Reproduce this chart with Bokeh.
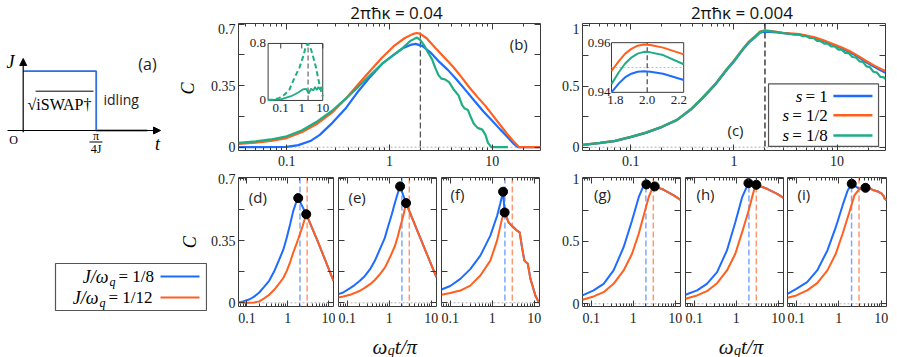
import math
from bokeh.plotting import figure
from bokeh.layouts import row, column
from bokeh.models import (Range1d, LogAxis, LinearAxis, FixedTicker, BasicTickFormatter,
                          Span, LogScale, LinearScale, Arrow, NormalHead, CustomLabelingPolicy)
from bokeh.core.properties import value
from bokeh.embed import file_html
from bokeh.resources import INLINE

BLUE, ORANGE, GREEN = "#1e6cff", "#ff5f1f", "#1fae84"
BLUE_L, ORANGE_L = "#7da6ff", "#ff9870"
INK = "#3a3a3a"
SERIF = "Liberation Serif"
SANS = "Open Sans"

# ---------------- data ----------------
TITLES = ["2πħκ = 0.04", "2πħκ = 0.004"]
S_LABELS = ["= 1", "= 1/2", "= 1/8"]
J_LABELS = ["= 1/8", "= 1/12"]

UP_X = (0.034, 29.5)
B_YR = (-0.0188, 0.704)
C_YR = (-0.027, 1.016)
LOW_X = (0.062, 13.3)
DF_YR = (-0.0209, 0.7073)
GI_YR = (-0.0216, 1.0104)

UP_XTICKS = [0.1, 1, 10, 30]
UP_XMINOR = [0.04, 0.05, 0.06, 0.07, 0.08, 0.09, 0.2, 0.3, 0.4, 0.5, 0.6, 0.7, 0.8, 0.9,
             2, 3, 4, 5, 6, 7, 8, 9, 20]
LOW_XTICKS = [0.1, 1, 10]
LOW_XMINOR = [0.07, 0.08, 0.09, 0.2, 0.3, 0.4, 0.5, 0.6, 0.7, 0.8, 0.9, 2, 3, 4, 5, 6, 7, 8, 9]
Y07_TICKS, Y07_MINOR = [0, 0.35, 0.7], [0.175, 0.525]
Y1_TICKS, Y1_MINOR = [0, 0.5, 1], [0.25, 0.75]

KAPPA_PEAK_X = 2.0
J18_MARK, J112_MARK = 2.0, 3.0

# panel (b)
B_X_BLUE = [0.034, 0.06, 0.1, 0.13, 0.17, 0.21, 0.28, 0.38, 0.5, 0.65, 0.85, 1.1, 1.35, 1.6, 1.8,
            2.1, 2.5, 3.0, 3.7, 4.5, 5.5, 6.8, 8.3, 10, 12, 14, 16, 17.8, 29.5]
B_Y_BLUE = [0, 0, 0.002, 0.012, 0.035, 0.07, 0.14, 0.225, 0.32, 0.4, 0.475, 0.525, 0.563, 0.582, 0.588,
            0.575, 0.54, 0.49, 0.44, 0.385, 0.325, 0.26, 0.2, 0.15, 0.1, 0.06, 0.022, 0, 0]
B_X_ORANGE = [0.034, 0.05, 0.07, 0.1, 0.14, 0.2, 0.28, 0.38, 0.5, 0.65, 0.85, 1.1, 1.4, 1.7, 1.85, 2.0,
              2.3, 2.8, 3.5, 4.2, 5.0, 6.0, 7.2, 8.5, 10, 12, 14, 16, 18.3, 29.5]
B_Y_ORANGE = [0.019, 0.026, 0.036, 0.052, 0.085, 0.135, 0.2, 0.279, 0.36, 0.435, 0.51, 0.575, 0.62, 0.645,
              0.65, 0.645, 0.62, 0.565, 0.505, 0.455, 0.4, 0.34, 0.285, 0.238, 0.185, 0.125, 0.075, 0.035, 0, 0]
B_X_GREEN = [0.034, 0.05, 0.07, 0.1, 0.14, 0.2, 0.28, 0.38, 0.5, 0.65, 0.85, 1.1, 1.35, 1.6, 1.85, 2.0,
             2.2, 2.4, 2.6, 2.8, 3.0, 3.2, 3.5, 3.8, 4.2, 4.7, 5.1, 5.4, 5.8, 6.2, 6.6, 7.2, 8.0, 8.6,
             9.1, 9.8, 11, 14.2]
B_Y_GREEN = [0.025, 0.033, 0.044, 0.062, 0.095, 0.148, 0.21, 0.279, 0.345, 0.41, 0.475, 0.525, 0.565,
             0.605, 0.624, 0.61, 0.575, 0.535, 0.5, 0.45, 0.41, 0.39, 0.385, 0.37, 0.33, 0.295, 0.24,
             0.22, 0.212, 0.17, 0.135, 0.11, 0.1, 0.07, 0.025, 0.0, 0.0, 0.0]
# inset of (b)
INB_X = (0.025, 10.0)
INB_Y = (0.0, 0.8)
INB_X_DASH = [0.025, 0.05, 0.087, 0.15, 0.26, 0.45, 0.77, 1.12, 1.6, 1.93, 2.77, 3.6, 4.8, 6.2, 8.3, 10]
INB_Y_DASH = [0.01, 0.012, 0.037, 0.08, 0.154, 0.318, 0.458, 0.6, 0.763, 0.8, 0.716, 0.6, 0.458, 0.295,
              0.131, 0.06]
INB_X_SOLID = [0.025, 0.1, 0.31, 0.65, 1.12, 1.6, 2.14, 2.77, 3.6, 4.3, 5.2, 6.2, 7.4, 8.9, 10]
INB_Y_SOLID = [0.005, 0.014, 0.06, 0.108, 0.154, 0.164, 0.098, 0.164, 0.14, 0.19, 0.145, 0.19, 0.154,
               0.187, 0.164]
INB_XTICKS = [0.1, 1, 10]
INB_YTICKS = [0, 0.8]

# panel (c)
C_X = [0.034, 0.05, 0.07, 0.1, 0.14, 0.2, 0.28, 0.38, 0.5, 0.67, 0.85, 1.0, 1.2, 1.4, 1.6, 1.78, 1.98,
       2.2, 2.6, 3.0, 3.5, 4.3, 5.2, 6.2, 7.5, 9.0, 11, 13.2, 16, 19, 23, 27, 29.5]
C_Y_ORANGE = [0.019, 0.035, 0.052, 0.085, 0.12, 0.168, 0.225, 0.31, 0.41, 0.526, 0.64, 0.71, 0.8, 0.868,
              0.91, 0.949, 0.959, 0.955, 0.948, 0.94, 0.935, 0.929, 0.915, 0.9, 0.877, 0.85, 0.82, 0.79,
              0.75, 0.71, 0.67, 0.64, 0.625]
C_Y_BLUE = [0.018, 0.033, 0.05, 0.083, 0.118, 0.165, 0.222, 0.306, 0.405, 0.52, 0.633, 0.703, 0.793,
            0.86, 0.902, 0.94, 0.9485, 0.947, 0.942, 0.936, 0.931, 0.924, 0.911, 0.895, 0.871, 0.844,
            0.813, 0.782, 0.742, 0.7, 0.66, 0.628, 0.612]
C_X_GREEN = [0.034, 0.05, 0.07, 0.1, 0.14, 0.2, 0.28, 0.38, 0.5, 0.67, 0.85, 1.0, 1.2, 1.4, 1.6, 1.78,
             1.98, 2.2, 2.6, 3.0, 3.5, 3.9, 4.2, 4.6, 5.0, 5.4, 5.9, 6.4, 6.9, 7.5, 8.1, 8.8, 9.5, 10.3,
             11.1, 12.0, 13.0, 14.1, 15.2, 16.5, 17.8, 19.3, 20.8, 22.5, 24.4, 26.4, 28.5, 29.5]
C_Y_GREEN = [0.019, 0.035, 0.052, 0.085, 0.12, 0.168, 0.225, 0.31, 0.41, 0.526, 0.638, 0.708, 0.797,
             0.865, 0.906, 0.943, 0.956, 0.953, 0.946, 0.938, 0.93, 0.924, 0.927, 0.913, 0.914, 0.898,
             0.897, 0.873, 0.871, 0.851, 0.85, 0.827, 0.828, 0.802, 0.801, 0.775, 0.772, 0.741, 0.738,
             0.705, 0.701, 0.664, 0.658, 0.62, 0.613, 0.577, 0.573, 0.56]
# inset of (c)
INC_XR_DATA = (1.775, 2.23)
INC_YR_DATA = (0.94, 0.96)
INC_X = [1.775, 1.82, 1.86, 1.9, 1.94, 1.98, 2.02, 2.1, 2.23]
INC_ORANGE = [0.9486, 0.9525, 0.9555, 0.9575, 0.9588, 0.9593, 0.9591, 0.9580, 0.9553]
INC_GREEN = [0.9433, 0.9480, 0.9515, 0.9540, 0.9556, 0.9563, 0.9561, 0.9550, 0.9513]
INC_BLUE = [0.9400, 0.9435, 0.9460, 0.9475, 0.9483, 0.9485, 0.9483, 0.9475, 0.9450]
INC_XTICKS = [1.8, 2.0, 2.2]
INC_YTICKS = [0.94, 0.96]
INC_MID = 0.95

# lower panels
D_X_BLUE = [0.062, 0.08, 0.117, 0.15, 0.2, 0.26, 0.35, 0.46, 0.6, 0.78, 0.95, 1.15, 1.37, 1.6, 1.81,
            2.85, 5.4, 13.3]
D_Y_BLUE = [0.002, 0.008, 0.02, 0.035, 0.058, 0.088, 0.124, 0.175, 0.237, 0.3, 0.369, 0.445, 0.519,
            0.565, 0.591, 0.5, 0.35, 0.124]
D_X_ORANGE = [0.062, 0.085, 0.117, 0.15, 0.2, 0.26, 0.35, 0.46, 0.6, 0.78, 0.95, 1.15, 1.37, 1.6, 1.81,
              2.3, 2.6, 2.85, 5.4, 13.3]
D_Y_ORANGE = [0.004, 0.0, 0.0, 0.002, 0.008, 0.024, 0.045, 0.072, 0.105, 0.14, 0.18, 0.23, 0.284,
              0.325, 0.36, 0.43, 0.47, 0.5, 0.35, 0.124]
D_DOTS_X, D_DOTS_Y = [1.81, 2.85], [0.591, 0.5]

E_X_BLUE = [0.062, 0.08, 0.117, 0.15, 0.2, 0.26, 0.35, 0.46, 0.6, 0.78, 0.95, 1.15, 1.37, 1.6, 1.81,
            2.51, 5.4, 13.3]
E_Y_BLUE = [0.049, 0.058, 0.083, 0.1, 0.124, 0.15, 0.19, 0.24, 0.303, 0.365, 0.435, 0.5, 0.566, 0.62,
            0.657, 0.563, 0.369, 0.143]
E_X_ORANGE = [0.062, 0.08, 0.117, 0.15, 0.2, 0.26, 0.35, 0.46, 0.6, 0.78, 0.95, 1.15, 1.37, 1.6, 1.81,
              2.2, 2.51, 5.4, 13.3]
E_Y_ORANGE = [0.03, 0.036, 0.045, 0.055, 0.068, 0.084, 0.105, 0.13, 0.162, 0.197, 0.237, 0.28, 0.322,
              0.375, 0.425, 0.5, 0.563, 0.369, 0.143]
E_DOTS_X, E_DOTS_Y = [1.81, 2.51], [0.657, 0.563]

F_X_BLUE = [0.062, 0.1, 0.174, 0.3, 0.52, 0.9, 1.3, 1.55, 1.81, 1.97, 2.45, 3.2, 3.9, 4.5, 5.1, 5.8,
            7.0, 8.1, 9.3, 10.6, 12.7, 13.3]
F_Y_BLUE = [0.075, 0.095, 0.135, 0.19, 0.266, 0.379, 0.49, 0.56, 0.627, 0.51, 0.454, 0.426, 0.407,
            0.398, 0.313, 0.238, 0.22, 0.135, 0.088, 0.041, 0.004, 0.0]
F_X_ORANGE = [0.062, 0.1, 0.174, 0.3, 0.52, 0.9, 1.3, 1.71, 1.97, 2.45, 3.2, 3.9, 4.5, 5.1, 5.8, 7.0,
              8.1, 9.3, 10.6, 12.7, 13.3]
F_Y_ORANGE = [0.045, 0.055, 0.069, 0.097, 0.154, 0.238, 0.351, 0.475, 0.51, 0.454, 0.426, 0.407, 0.398,
              0.313, 0.238, 0.22, 0.135, 0.088, 0.041, 0.004, 0.0]
F_DOTS_X, F_DOTS_Y = [1.81, 1.97], [0.627, 0.51]

G_X_BLUE = [0.062, 0.114, 0.197, 0.34, 0.59, 0.935, 1.35, 1.77, 2.05, 3.24, 5.3, 9.2, 13.3]
G_Y_BLUE = [0.067, 0.107, 0.16, 0.267, 0.453, 0.667, 0.853, 0.947, 0.955, 0.939, 0.912, 0.867, 0.832]
G_X_ORANGE = [0.062, 0.114, 0.197, 0.34, 0.59, 0.935, 1.35, 1.77, 2.33, 2.8, 3.24, 5.3, 9.2, 13.3]
G_Y_ORANGE = [0.032, 0.059, 0.093, 0.16, 0.267, 0.4, 0.56, 0.707, 0.853, 0.92, 0.939, 0.912, 0.867, 0.832]
G_DOTS_X, G_DOTS_Y = [2.05, 3.24], [0.955, 0.939]

H_X_BLUE = [0.062, 0.117, 0.2, 0.35, 0.6, 0.95, 1.38, 1.95, 3.0, 5.4, 9.4, 13.3]
H_Y_BLUE = [0.072, 0.107, 0.16, 0.253, 0.427, 0.653, 0.853, 0.965, 0.952, 0.92, 0.88, 0.848]
H_X_ORANGE = [0.062, 0.117, 0.2, 0.35, 0.6, 0.95, 1.38, 1.97, 2.38, 2.7, 3.0, 5.4, 9.4, 13.3]
H_Y_ORANGE = [0.04, 0.067, 0.101, 0.165, 0.267, 0.4, 0.573, 0.747, 0.853, 0.92, 0.952, 0.92, 0.88, 0.848]
H_DOTS_X, H_DOTS_Y = [1.95, 3.0], [0.965, 0.952]

I_X_ORANGE = [0.062, 0.1, 0.18, 0.31, 0.54, 0.85, 1.23, 1.77, 2.33, 3.06, 3.6, 4.26, 5.0, 5.6, 6.3, 7.0,
              7.8, 8.5, 9.3, 10.0, 10.8, 11.5, 12.0, 12.6, 13.3]
I_Y_ORANGE = [0.048, 0.067, 0.107, 0.165, 0.267, 0.4, 0.56, 0.733, 0.867, 0.92, 0.925, 0.928, 0.92,
              0.922, 0.91, 0.907, 0.9, 0.898, 0.888, 0.885, 0.872, 0.86, 0.84, 0.838, 0.827]
I_X_BLUE = [0.062, 0.1, 0.18, 0.31, 0.54, 0.85, 1.23, 1.62, 2.02, 3.06, 3.6, 4.26, 5.0, 5.6, 6.3, 7.0,
            7.8, 8.5, 9.3, 10.0, 10.8, 11.5, 12.0, 12.6, 13.3]
I_Y_BLUE = [0.08, 0.12, 0.173, 0.267, 0.427, 0.613, 0.787, 0.907, 0.96, 0.92, 0.925, 0.928, 0.92,
            0.922, 0.91, 0.907, 0.9, 0.898, 0.888, 0.885, 0.872, 0.86, 0.84, 0.838, 0.827]
I_DOTS_X, I_DOTS_Y = [2.02, 4.26], [0.96, 0.928]

# schematic (a): J(t), t in units of pi/(4J)
STEP_T = [0, 1, 1, 1.70]
STEP_J = [1, 1, 0, 0]

UP_FRAME_H = 127


# ---------------- helpers ----------------
def fx_log(rng, f):
    a, b = math.log10(rng[0]), math.log10(rng[1])
    return 10 ** (a + f * (b - a))


def fy(rng, f_top):
    return rng[1] - f_top * (rng[1] - rng[0])


def ext_log(lo, hi, f0, f1):
    a, b = math.log10(lo), math.log10(hi)
    span = (b - a) / (f1 - f0)
    s = a - f0 * span
    return 10 ** s, 10 ** (s + span)


def ext_lin(lo, hi, f0, f1):
    span = (hi - lo) / (f1 - f0)
    s = lo - f0 * span
    return s, s + span


def blank_fig(w, h, xr, yr):
    f = figure(width=w, height=h, x_range=Range1d(*xr), y_range=Range1d(*yr),
               x_axis_type=None, y_axis_type=None, output_backend="svg", toolbar_location=None,
               min_border=0, outline_line_color=None)
    f.grid.visible = False
    return f


NO_LABELS = "if (false) { yield 0 }"


def make_panel(w, h, bl, br, bt, bb, xr, yr, xticks, xminor, yticks, yminor, ylabels=True, xstand=5):
    p = figure(width=w, height=h, x_axis_type="log", x_range=Range1d(*xr), y_range=Range1d(*yr),
               output_backend="svg", toolbar_location=None,
               min_border_left=bl, min_border_right=br, min_border_top=bt, min_border_bottom=bb)
    p.grid.visible = False
    p.outline_line_color = INK
    p.outline_line_width = 1
    p.border_fill_color = "white"
    xt = FixedTicker(ticks=xticks, minor_ticks=xminor)
    yt = FixedTicker(ticks=yticks, minor_ticks=yminor)
    bx = p.xaxis[0]
    ly = p.yaxis[0]
    bx.ticker = xt
    ly.ticker = yt
    top = LogAxis(ticker=xt, fixed_location=yr[1])
    right = LinearAxis(ticker=yt, fixed_location=xr[1])
    p.add_layout(top, "above")
    p.add_layout(right, "right")
    hidden = [top, right]
    if not ylabels:
        ly.fixed_location = xr[0]
        hidden.append(ly)
    for ax in (bx, top, ly, right):
        ax.formatter = BasicTickFormatter()
        ax.axis_line_color = None
        ax.major_tick_out = 0
        ax.minor_tick_out = 0
        ax.major_tick_line_color = INK
        ax.minor_tick_line_color = INK
        ax.major_label_text_font = SERIF
        ax.major_label_text_font_size = "14px"
        ax.major_label_text_color = "#222222"
    for ax in (bx, top):
        ax.major_tick_in = 6
        ax.minor_tick_in = 3
    for ax in (ly, right):
        ax.major_tick_in = 6
        ax.minor_tick_in = 6
    for ax in hidden:
        ax.major_label_policy = CustomLabelingPolicy(code=NO_LABELS)
    bx.major_label_standoff = xstand
    ly.major_label_standoff = 3
    p.add_layout(Span(location=0, dimension="width", line_color="#b4b4b4", line_dash="2 2",
                      line_width=1, level="underlay"))
    return p


def tag(p, xr, yr, fxx, fyy, text, size="15px"):
    p.text(x=[fx_log(xr, fxx)], y=[fy(yr, fyy)], text=[text], text_font=value(SANS),
           text_font_size=size, text_align="center", text_baseline="middle", text_color="#222222")


def title_strip(text, cx):
    t = blank_fig(345, 23, (0, 345), (23, 0))
    t.text(x=[cx], y=[11.5], text=[text], text_font=value(SANS), text_font_size="17px",
           text_align="center", text_baseline="middle", text_color="#111111")
    return t


def xlabel_strip(cx):
    s = blank_fig(345, 28, (0, 345), (28, 0))
    s.text(x=[cx - 10], y=[17], text=["ω"], text_font=value(SERIF), text_font_style="italic",
           text_font_size="21px", text_align="right", text_baseline="alphabetic", text_color="#111111")
    s.text(x=[cx - 9.5], y=[20.5], text=["q"], text_font=value(SERIF), text_font_style="italic",
           text_font_size="14px", text_align="left", text_baseline="alphabetic", text_color="#111111")
    s.text(x=[cx - 1.5], y=[17], text=["t/π"], text_font=value(SERIF), text_font_style="italic",
           text_font_size="21px", text_align="left", text_baseline="alphabetic", text_color="#111111")
    return s


# ---------------- panel (a) ----------------
fa = blank_fig(207, 172, (-22.7 / 73, (207 - 22.7) / 73), (-(172 - 130) / 59.3, 130 / 59.3))
head = dict(size=7, fill_color="black", line_color="black", line_width=1)
fa.add_layout(Arrow(end=NormalHead(**head), x_start=0, y_start=-0.03, x_end=0, y_end=1.214,
                    line_width=1.2, line_color="black"))
fa.add_layout(Arrow(end=NormalHead(**head), x_start=-0.215, y_start=0, x_end=1.881, y_end=0,
                    line_width=1.2, line_color="black"))
fa.line(STEP_T, STEP_J, color="#2f6fe0", line_width=1.8)
fa.text(x=[-0.174, 1.84], y=[1.147, -0.236], text=["J", "t"], text_font=value(SERIF),
        text_font_style="italic", text_font_size="18px", text_align="center", text_baseline="middle")
fa.text(x=[1.703], y=[1.113], text=["(a)"], text_font=value(SANS), text_font_size="16px",
        text_align="center", text_baseline="middle", text_color="#222222")
fa.text(x=[0.059], y=[0.438], text=["√iSWAP†"], text_font=value(SERIF), text_font_size="16px",
        text_align="left", text_baseline="alphabetic")
fa.segment(x0=[0.17], y0=[0.663], x1=[0.963], y1=[0.663], line_color="black", line_width=1)
fa.text(x=[1.1], y=[0.523], text=["idling"], text_font=value(SANS), text_font_size="14px",
        text_align="left", text_baseline="middle", text_color="#222222")
fa.text(x=[-0.133], y=[-0.152], text=["O"], text_font=value(SERIF), text_font_size="12px",
        text_align="center", text_baseline="middle")
fa.text(x=[0.997, 0.997], y=[-0.101, -0.304], text=["π", "4J"], text_font=value(SERIF),
        text_font_size="12px", text_align="center", text_baseline="middle")
fa.segment(x0=[0.908], y0=[-0.194], x1=[1.086], y1=[-0.194], line_color="black", line_width=1)
fa.text(x=[2.257], y=[0.708], text=["C"], angle=math.pi / 2, text_font=value(SERIF),
        text_font_style="italic", text_font_size="18px", text_align="center", text_baseline="middle")

# ---------------- legend column (page coordinates) ----------------
fl = blank_fig(207, 185, (0, 207), (357, 172))
fl.text(x=[189], y=[241.7], text=["C"], angle=math.pi / 2, text_font=value(SERIF),
        text_font_style="italic", text_font_size="18px", text_align="center", text_baseline="middle")
fl.quad(left=[55], right=[206], top=[263], bottom=[310], fill_color="white", line_color="#555555",
        line_width=1.2)
fl.text(x=[108, 98], y=[276, 297], text=["J/ω", "J/ω"], text_font=value(SERIF),
        text_font_style="italic", text_font_size="18px", text_align="right", text_baseline="middle")
fl.text(x=[109, 99], y=[281, 302], text=["q", "q"], text_font=value(SERIF),
        text_font_style="italic", text_font_size="12px", text_align="left", text_baseline="middle")
fl.text(x=[118, 108], y=[276, 297], text=J_LABELS, text_font=value(SERIF), text_font_size="17px",
        text_align="left", text_baseline="middle")
fl.segment(x0=[160, 160], y0=[276, 297], x1=[199, 199], y1=[276, 297], line_color=[BLUE, ORANGE],
           line_width=2.2)

# ---------------- panel (b) ----------------
pb = make_panel(345, 149, 28, 12, 0, 22, UP_X, B_YR, UP_XTICKS, UP_XMINOR, Y07_TICKS, Y07_MINOR)
pb.add_layout(Span(location=KAPPA_PEAK_X, dimension="height", line_color="#555555", line_dash="6 3",
                   line_width=1.3, level="underlay"))
pb.line(B_X_BLUE, B_Y_BLUE, color=BLUE, line_width=2.2)
pb.line(B_X_ORANGE, B_Y_ORANGE, color=ORANGE, line_width=2.2)
pb.line(B_X_GREEN, B_Y_GREEN, color=GREEN, line_width=2.2)
tag(pb, UP_X, B_YR, 0.928, 0.165, "(b)")
INB_FX, INB_FY = (0.098, 0.279), (0.394, 0.843)
pb.extra_x_ranges = {"ins": Range1d(*ext_log(INB_X[0], INB_X[1], *INB_FX))}
pb.extra_x_scales = {"ins": LogScale()}
pb.extra_y_ranges = {"ins": Range1d(*ext_lin(INB_Y[0], INB_Y[1], *INB_FY))}
inb_upx = (INB_Y[1] - INB_Y[0]) / (UP_FRAME_H * (INB_FY[1] - INB_FY[0]))
kw = dict(x_range_name="ins", y_range_name="ins")
pb.quad(left=[INB_X[0]], right=[INB_X[1]], bottom=[INB_Y[0]], top=[INB_Y[1]], fill_color="white",
        line_color=INK, line_width=1, **kw)
pb.segment(x0=[KAPPA_PEAK_X], y0=[INB_Y[0]], x1=[KAPPA_PEAK_X], y1=[INB_Y[1]], line_color="#666666",
           line_dash="5 3", line_width=1.2, **kw)
pb.segment(x0=INB_XTICKS, y0=[INB_Y[1]] * 3, x1=INB_XTICKS, y1=[INB_Y[1] - 5 * inb_upx] * 3,
           line_color=INK, line_width=1, **kw)
pb.line(INB_X_DASH, INB_Y_DASH, color=GREEN, line_width=2, line_dash="5 3", **kw)
pb.line(INB_X_SOLID, INB_Y_SOLID, color=GREEN, line_width=1.8, **kw)
pb.text(x=[INB_X[0]] * 2, y=INB_YTICKS, text=["0", "0.8"], x_offset=-2, text_font=value(SERIF),
        text_font_size="13px", text_align="right", text_baseline="middle", text_color="#222222", **kw)
pb.text(x=INB_XTICKS, y=[INB_Y[0] - 4 * inb_upx] * 3, text=["0.1", "1", "10"], text_font=value(SERIF),
        text_font_size="13px", text_align="center", text_baseline="top", text_color="#222222", **kw)

# ---------------- panel (c) ----------------
pc = make_panel(345, 149, 30, 12, 0, 22, UP_X, C_YR, UP_XTICKS, UP_XMINOR, Y1_TICKS, Y1_MINOR)
pc.add_layout(Span(location=KAPPA_PEAK_X, dimension="height", line_color="#222222", line_dash="6 3",
                   line_width=1.3, level="underlay"))
pc.line(C_X, C_Y_BLUE, color=BLUE, line_width=2.2)
pc.line(C_X, C_Y_ORANGE, color=ORANGE, line_width=2.2)
pc.line(C_X_GREEN, C_Y_GREEN, color=GREEN, line_width=2.2)
tag(pc, UP_X, C_YR, 0.505, 0.84, "(c)")
lx0, lx1 = fx_log(UP_X, 0.614), fx_log(UP_X, 0.977)
ly_top, ly_bot = fy(C_YR, 0.476), fy(C_YR, 0.968)
pc.quad(left=[lx0], right=[lx1], top=[ly_top], bottom=[ly_bot], fill_color="white",
        line_color="#555555", line_width=1.2)
rows_y = [fy(C_YR, f) for f in (0.571, 0.722, 0.881)]
pc.text(x=[fx_log(UP_X, f) for f in (0.726, 0.682, 0.682)], y=rows_y, text=["s", "s", "s"],
        text_font=value(SERIF), text_font_style="italic", text_font_size="17px", text_align="right",
        text_baseline="middle")
pc.text(x=[fx_log(UP_X, f) for f in (0.736, 0.692, 0.692)], y=rows_y, text=S_LABELS,
        text_font=value(SERIF), text_font_size="17px", text_align="left", text_baseline="middle")
pc.segment(x0=[fx_log(UP_X, 0.828)] * 3, y0=rows_y, x1=[fx_log(UP_X, 0.957)] * 3, y1=rows_y,
           line_color=[BLUE, ORANGE, GREEN], line_width=2.5)
INC_FX, INC_FY = (0.0957, 0.334), (0.458, 0.849)
pc.extra_x_ranges = {"ins": Range1d(*ext_lin(INC_XR_DATA[0], INC_XR_DATA[1], *INC_FX))}
pc.extra_x_scales = {"ins": LinearScale()}
pc.extra_y_ranges = {"ins": Range1d(*ext_lin(INC_YR_DATA[0], INC_YR_DATA[1], *INC_FY))}
inc_upx = (INC_YR_DATA[1] - INC_YR_DATA[0]) / (UP_FRAME_H * (INC_FY[1] - INC_FY[0]))
pc.quad(left=[INC_XR_DATA[0]], right=[INC_XR_DATA[1]], bottom=[INC_YR_DATA[0]], top=[INC_YR_DATA[1]],
        fill_color="white", line_color=INK, line_width=1, **kw)
pc.segment(x0=[INC_XR_DATA[0]], y0=[INC_MID], x1=[INC_XR_DATA[1]], y1=[INC_MID], line_color="#c0c0c0",
           line_dash="2 2", line_width=1, **kw)
pc.segment(x0=[KAPPA_PEAK_X], y0=[INC_YR_DATA[0]], x1=[KAPPA_PEAK_X], y1=[INC_YR_DATA[1]],
           line_color="#444444", line_dash="5 3", line_width=1.2, **kw)
pc.line(INC_X, INC_BLUE, color=BLUE, line_width=2, **kw)
pc.line(INC_X, INC_ORANGE, color=ORANGE, line_width=2, **kw)
pc.line(INC_X, INC_GREEN, color=GREEN, line_width=2, **kw)
pc.text(x=[INC_XR_DATA[0]] * 2, y=INC_YTICKS, text=["0.94", "0.96"], x_offset=-1,
        text_font=value(SERIF), text_font_size="13px", text_align="right", text_baseline="middle",
        text_color="#222222", **kw)
pc.text(x=INC_XTICKS, y=[INC_YR_DATA[0] - 4 * inc_upx] * 3, text=["1.8", "2.0", "2.2"],
        text_font=value(SERIF), text_font_size="13px", text_align="center", text_baseline="top",
        text_color="#222222", **kw)


# ---------------- lower panels ----------------
def lower(w, bl, br, yr, yticks, yminor, ylabels, xb, yb, xo, yo, dx, dy, label, tpos):
    p = make_panel(w, 157, bl, br, 5, 23, LOW_X, yr, LOW_XTICKS, LOW_XMINOR, yticks, yminor,
                   ylabels=ylabels, xstand=6)
    p.add_layout(Span(location=J18_MARK, dimension="height", line_color=BLUE_L, line_dash="6 3",
                      line_width=1.5, level="underlay"))
    p.add_layout(Span(location=J112_MARK, dimension="height", line_color=ORANGE_L, line_dash="6 3",
                      line_width=1.5, level="underlay"))
    p.line(xb, yb, color=BLUE, line_width=2)
    p.line(xo, yo, color=ORANGE, line_width=2)
    p.scatter(dx, dy, size=9, color="black")
    tag(p, LOW_X, yr, tpos[0], tpos[1], label)
    return p


pd = lower(128, 28, 2, DF_YR, Y07_TICKS, Y07_MINOR, True, D_X_BLUE, D_Y_BLUE, D_X_ORANGE, D_Y_ORANGE,
           D_DOTS_X, D_DOTS_Y, "(d)", (0.204, 0.155))
pe = lower(103, 3, 2, DF_YR, Y07_TICKS, Y07_MINOR, False, E_X_BLUE, E_Y_BLUE, E_X_ORANGE, E_Y_ORANGE,
           E_DOTS_X, E_DOTS_Y, "(e)", (0.19, 0.155))
pf = lower(114, 3, 13, DF_YR, Y07_TICKS, Y07_MINOR, False, F_X_BLUE, F_Y_BLUE, F_X_ORANGE, F_Y_ORANGE,
           F_DOTS_X, F_DOTS_Y, "(f)", (0.163, 0.128))
pg = lower(130, 30, 2, GI_YR, Y1_TICKS, Y1_MINOR, True, G_X_BLUE, G_Y_BLUE, G_X_ORANGE, G_Y_ORANGE,
           G_DOTS_X, G_DOTS_Y, "(g)", (0.204, 0.128))
ph = lower(103, 3, 2, GI_YR, Y1_TICKS, Y1_MINOR, False, H_X_BLUE, H_Y_BLUE, H_X_ORANGE, H_Y_ORANGE,
           H_DOTS_X, H_DOTS_Y, "(h)", (0.204, 0.128))
pi_ = lower(112, 2, 11, GI_YR, Y1_TICKS, Y1_MINOR, False, I_X_BLUE, I_Y_BLUE, I_X_ORANGE, I_Y_ORANGE,
            I_DOTS_X, I_DOTS_Y, "(i)", (0.165, 0.128))

layout = row(
    column(fa, fl, spacing=0),
    column(title_strip(TITLES[0], 180.5), pb, row(pd, pe, pf, spacing=0), xlabel_strip(180),
           spacing=0),
    column(title_strip(TITLES[1], 181.5), pc, row(pg, ph, pi_, spacing=0), xlabel_strip(182),
           spacing=0),
    spacing=0,
)

open("out.html", "w").write(file_html(layout, INLINE))
